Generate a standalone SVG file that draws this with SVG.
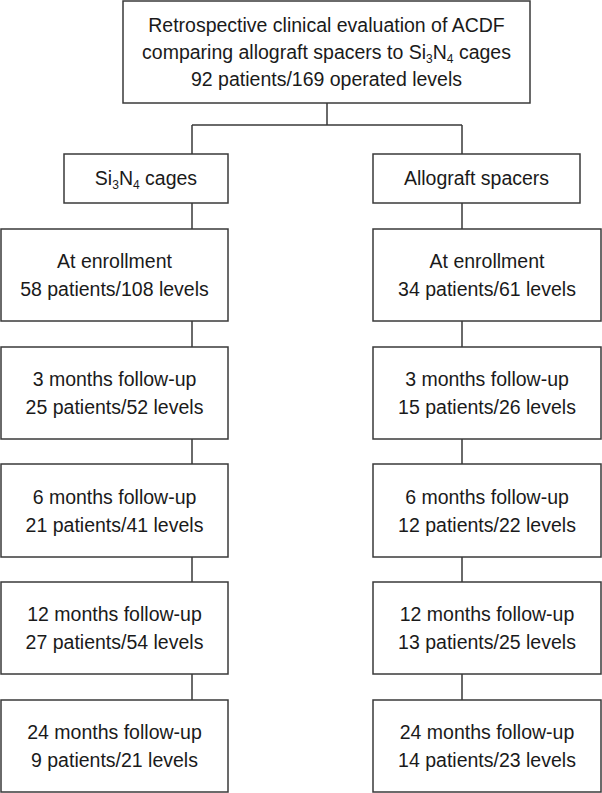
<svg xmlns="http://www.w3.org/2000/svg" width="602" height="793" viewBox="0 0 602 793">
<style>
.box{fill:#fff;stroke:#3a3a3a;stroke-width:1.5}
.ln{fill:none;stroke:#3a3a3a;stroke-width:1.5}
text{font-family:"Liberation Sans",Arial,sans-serif;font-size:19.5px;fill:#1a1a1a;text-anchor:middle}
.sub{font-size:12px}
</style>
<rect width="602" height="793" fill="#fff"/>
<g id="connectors">
<path class="ln" d="M327 103V125M192 125H462M192 125V154M462 125V154M192 203V229M462 203V229M192 321V347M462 321V347M192 439V464M462 439V464M192 557V582M462 557V582M192 674V700M462 674V700"/>
</g>
<g id="top"><rect class="box" x="123" y="1" width="407" height="102"/>
<text x="326.5" y="32">Retrospective clinical evaluation of ACDF</text>
<text x="326.5" y="59">comparing allograft spacers to Si<tspan class="sub" dy="4">3</tspan><tspan dy="-4">N</tspan><tspan class="sub" dy="4">4</tspan><tspan dy="-4"> cages</tspan></text>
<text x="326.5" y="86">92 patients/169 operated levels</text></g>
<g id="si3n4"><rect class="box" x="64" y="154" width="164" height="49"/>
<text x="146" y="185">Si<tspan class="sub" dy="4">3</tspan><tspan dy="-4">N</tspan><tspan class="sub" dy="4">4</tspan><tspan dy="-4"> cages</tspan></text></g>
<g id="allograft"><rect class="box" x="373" y="154" width="207" height="49"/>
<text x="476.5" y="185">Allograft spacers</text></g>
<g id="L0"><rect class="box" x="1" y="229" width="227" height="92"/><text x="114.5" y="268">At enrollment</text><text x="114.5" y="296">58 patients/108 levels</text></g>
<g id="R0"><rect class="box" x="373" y="229" width="228" height="92"/><text x="487" y="268">At enrollment</text><text x="487" y="296">34 patients/61 levels</text></g>
<g id="L1"><rect class="box" x="1" y="347" width="227" height="92"/><text x="114.5" y="386">3 months follow-up</text><text x="114.5" y="414">25 patients/52 levels</text></g>
<g id="R1"><rect class="box" x="373" y="347" width="228" height="92"/><text x="487" y="386">3 months follow-up</text><text x="487" y="414">15 patients/26 levels</text></g>
<g id="L2"><rect class="box" x="1" y="464" width="227" height="93"/><text x="114.5" y="504">6 months follow-up</text><text x="114.5" y="532">21 patients/41 levels</text></g>
<g id="R2"><rect class="box" x="373" y="464" width="228" height="93"/><text x="487" y="504">6 months follow-up</text><text x="487" y="532">12 patients/22 levels</text></g>
<g id="L3"><rect class="box" x="1" y="582" width="227" height="92"/><text x="114.5" y="621">12 months follow-up</text><text x="114.5" y="649">27 patients/54 levels</text></g>
<g id="R3"><rect class="box" x="373" y="582" width="228" height="92"/><text x="487" y="621">12 months follow-up</text><text x="487" y="649">13 patients/25 levels</text></g>
<g id="L4"><rect class="box" x="1" y="700" width="227" height="92"/><text x="114.5" y="739">24 months follow-up</text><text x="114.5" y="767">9 patients/21 levels</text></g>
<g id="R4"><rect class="box" x="373" y="700" width="228" height="92"/><text x="487" y="739">24 months follow-up</text><text x="487" y="767">14 patients/23 levels</text></g>
</svg>
